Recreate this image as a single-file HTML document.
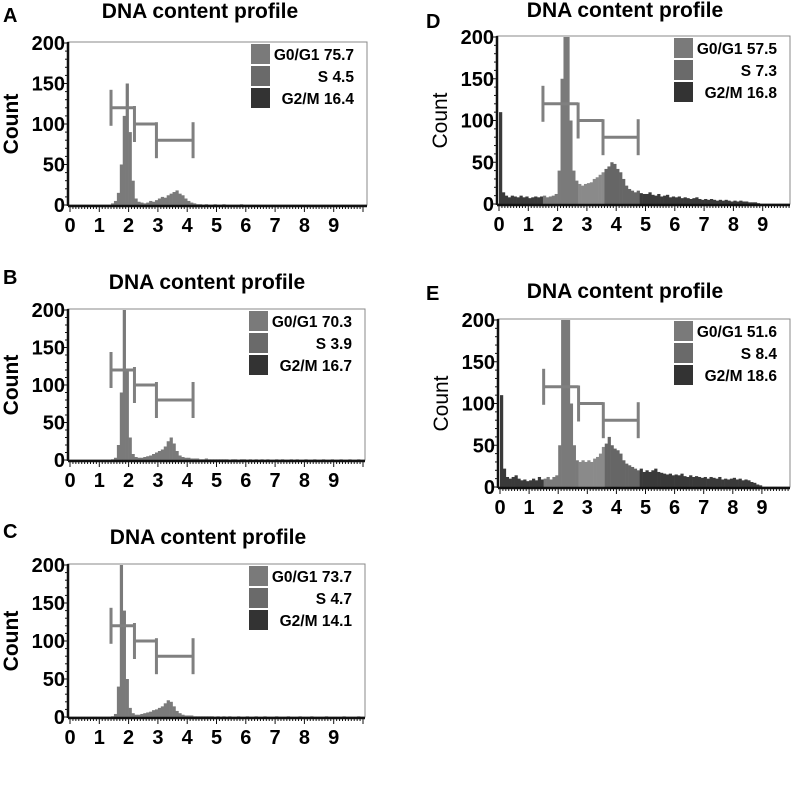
<!DOCTYPE html>
<html><head><meta charset="utf-8"><style>
body{margin:0;background:#fff;width:796px;height:796px;overflow:hidden}
svg text{font-family:"Liberation Sans",sans-serif}
</style></head><body>
<svg id="fig" width="796" height="796" viewBox="0 0 796 796"></svg>
<script>
// ---- data (counts per 0.1 DNA-content bin, starting at 0.0) ----
const histA=[0,0,0,0,0,0,0,0,0,0, 0,0,0,0,2,5,15,50,110,150, 90,30,8,4,3,2,3,5,4,6, 8,10,9,12,14,16,18,14,12,8, 5,3,2,1,1,0,1,0,0,1, 0,0,1,0,0,0,0,0,1,0, 0,0,0,0,0,0,0,0,0,0, 0,0,0,0,0,0,0,0,0,0, 0,0,0,0,0,0,0,0,0,0, 0,0,0,0,0,0,0,0,0,0];
const histB=[0,0,0,0,0,0,0,0,0,0, 0,0,0,0,1,3,20,90,200,120, 30,8,4,3,3,4,5,6,8,10, 12,14,18,25,30,22,12,6,4,3, 3,2,2,2,1,1,2,1,1,1, 1,1,1,1,0,1,1,0,1,1, 0,1,0,1,0,1,0,1,0,0, 1,0,1,0,0,1,0,1,0,0, 1,0,0,1,0,0,1,0,0,1, 0,0,1,0,0,1,0,0,1,0];
const histC=[0,0,0,0,0,0,0,0,0,0, 0,0,0,0,1,4,40,200,140,50, 12,5,3,3,4,5,6,7,9,10, 12,14,18,22,20,14,8,5,3,2, 2,2,1,1,1,1,1,1,1,0, 1,0,1,0,1,0,0,1,0,0, 1,0,0,1,0,0,1,0,0,0, 1,0,0,0,1,0,0,0,1,0, 0,0,1,0,0,0,0,1,0,0, 0,0,0,1,0,0,0,0,1,0];
const histD=[110,14,10,8,10,9,8,10,8,9, 7,8,9,8,9,10,8,9,10,12, 40,150,200,200,100,40,28,24,22,24, 25,26,30,32,35,38,42,45,50,48, 42,38,30,22,18,16,14,16,13,12, 12,14,11,10,12,9,10,11,8,9, 8,9,7,8,7,6,7,8,6,5, 6,5,6,5,4,5,4,5,4,3, 4,3,4,3,3,2,2,2,1,0, 0,0,0,0,0,0,0,0,0,0];
const histE=[110,22,12,10,12,14,10,8,9,7, 8,10,8,12,9,10,12,9,12,14, 50,200,200,200,100,50,32,30,32,30, 32,30,34,36,40,48,52,60,50,46, 44,40,32,28,26,24,22,20,22,18, 20,18,20,22,18,17,16,15,16,14, 15,14,16,13,12,14,12,13,12,11, 12,10,12,11,10,12,9,10,9,10, 11,9,10,8,9,8,6,5,3,2, 0,0,0,0,0,0,0,0,0,0];
const legendA=["G0/G1 75.7","S 4.5","G2/M 16.4"];
const legendB=["G0/G1 70.3","S 3.9","G2/M 16.7"];
const legendC=["G0/G1 73.7","S 4.7","G2/M 14.1"];
const legendD=["G0/G1 57.5","S 7.3","G2/M 16.8"];
const legendE=["G0/G1 51.6","S 8.4","G2/M 18.6"];
const gatesABC=[[1.4,2.2],[2.2,2.95],[2.95,4.2]];
const gatesDE=[[1.5,2.7],[2.7,3.55],[3.55,4.75]];
const gateLevels=[120,100,80];
const yTicks=[0,50,100,150,200];
const xTicks=[0,1,2,3,4,5,6,7,8,9];

const NS="http://www.w3.org/2000/svg";
const svg=document.getElementById('fig');
function mk(tag,attrs,parent){const e=document.createElementNS(NS,tag);for(const k in attrs)e.setAttribute(k,attrs[k]);(parent||svg).appendChild(e);return e;}

function panel(p){
  const g=mk('g',{});
  
  
  const xs=p.xs, X=v=>p.x0+v*xs, Y=v=>p.yb-(v/200)*(p.yb-p.yt);
  const lt=mk('text',{x:p.lx,y:p.ly,'font-size':20,'font-weight':'bold'},g);lt.textContent=p.id;
  
  
  const tt=mk('text',{x:p.tx,y:p.ty,'font-size':21,'font-weight':'bold','text-anchor':'middle'},g);tt.textContent='DNA content profile';
  
  
  const left=p.x0-2;
  mk('rect',{x:left,y:p.yt-1,width:p.xr-left,height:p.yb-p.yt+1,fill:'none',stroke:'#888','stroke-width':1},g);
  p.hist.forEach((c,i)=>{
    const v=i/10; let col='#3a3a3a';
    if(v>=p.g[0][0]-0.05&&v<p.g[0][1])col='#7a7a7a';else if(v>=p.g[1][0]&&v<p.g[1][1])col=p.dark?'#8a8a8a':'#7a7a7a';else if(v>=p.g[2][0]&&v<p.g[2][1])col=p.dark?'#666':'#7a7a7a';else if(!p.dark)col='#7a7a7a';
    if(c<=0)return;
    const h=Math.min(c,200);
    const r=mk('rect',{x:X(v),y:Y(h),width:xs/10+0.3,height:Y(0)-Y(h),fill:col},g);
    
    
  });
  mk('line',{x1:left,y1:p.yt-1,x2:left,y2:p.yb+1,stroke:'#111','stroke-width':2.5},g);
  mk('line',{x1:left,y1:p.yb+1,x2:p.xr,y2:p.yb+1,stroke:'#111','stroke-width':2.5},g);
  for(let i=0;i<=100;i++){const x=X(i/10);if(x>p.xr)break;mk('line',{x1:x,y1:p.yb+1,x2:x,y2:p.yb+(i%10==0?7:4),stroke:'#111','stroke-width':1},g);}
  for(let v=0;v<=200;v+=10){mk('line',{x1:left,y1:Y(v),x2:left-(v%50==0?6:3),y2:Y(v),stroke:'#111','stroke-width':1},g);}
  yTicks.forEach(v=>{const t=mk('text',{x:left-3,y:Y(v)+7,'font-size':20,'font-weight':'bold','text-anchor':'end'},g);t.textContent=v;
    
    });
  xTicks.forEach(v=>{const t=mk('text',{x:X(v),y:p.yb+27,'font-size':20,'font-weight':'bold','text-anchor':'middle'},g);t.textContent=v;
    
    });
  const cy=(p.yt+p.yb)/2;
  const yl=mk('text',{x:0,y:0,'font-size':21,'font-weight':p.dark?'normal':'bold','text-anchor':'middle',transform:`translate(${p.x0-52},${cy}) rotate(-90)`},g);yl.textContent='Count';
  
  
  p.g.forEach((gt,i)=>{
    const gy=Y(gateLevels[i]);
    const gg=mk('g',{stroke:'#808080','stroke-width':3,fill:'none'},g);
    
    
    mk('line',{x1:X(gt[0]),y1:gy,x2:X(gt[1]),y2:gy},gg);
    mk('line',{x1:X(gt[0]),y1:gy-18,x2:X(gt[0]),y2:gy+18},gg);
    if(i==2)mk('line',{x1:X(gt[1]),y1:gy-18,x2:X(gt[1]),y2:gy+18},gg);
  });
  const cols=['#7a7a7a','#6a6a6a','#333'];
  p.leg.forEach((s,i)=>{
    const ly=p.yt+1+i*22;
    const lg=mk('g',{},g);
    
    
    mk('rect',{x:p.xr-116,y:ly,width:19,height:20,fill:cols[i]},lg);
    const t=mk('text',{x:p.xr-13,y:ly+16,'font-size':15.5,'font-weight':'bold','text-anchor':'end'},lg);t.textContent=s;
  });
}
panel({id:'A',lx:3,ly:22,tx:200,ty:18,x0:70,xs:29.3,yt:43,yb:205,xr:367,hist:histA,leg:legendA,g:gatesABC,dark:false});
panel({id:'B',lx:3,ly:284,tx:207,ty:289,x0:70,xs:29.3,yt:310,yb:460,xr:365,hist:histB,leg:legendB,g:gatesABC,dark:false});
panel({id:'C',lx:3,ly:538,tx:208,ty:544,x0:70,xs:29.3,yt:565,yb:717,xr:365,hist:histC,leg:legendC,g:gatesABC,dark:false});
panel({id:'D',lx:426,ly:28,tx:625,ty:17,x0:499,xs:29.3,yt:37,yb:204,xr:790,hist:histD,leg:legendD,g:gatesDE,dark:true});
panel({id:'E',lx:426,ly:300,tx:625,ty:298,x0:500,xs:29.1,yt:320,yb:487,xr:790,hist:histE,leg:legendE,g:gatesDE,dark:true});
</script>
</body></html>
